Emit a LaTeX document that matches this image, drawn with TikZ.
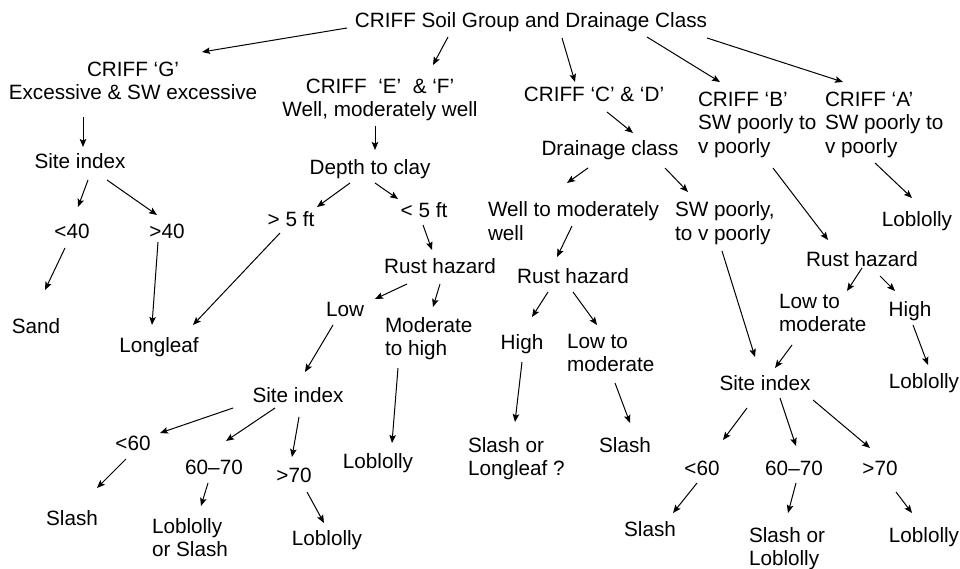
\documentclass[tikz,border=0pt]{standalone}
\usepackage{fontspec}
\setmainfont{Liberation Sans}
\usetikzlibrary{arrows.meta}
\tikzset{
  lab/.style={inner sep=0pt, outer sep=0pt, anchor=base, font=\fontsize{20.7}{23.5}\selectfont},
  mlc/.style={inner sep=0pt, outer sep=0pt, anchor=north, align=center, font=\fontsize{20.7}{23.5}\selectfont},
  mll/.style={inner sep=0pt, outer sep=0pt, anchor=north west, align=left, font=\fontsize{20.7}{23.5}\selectfont},
  arr/.style={line width=1pt, -{Stealth[length=8pt,width=6.5pt,inset=1.5pt]}}
}
\begin{document}
\begin{tikzpicture}[x=1pt,y=-1pt]
\useasboundingbox (0,0) rectangle (960,569);
% single-line nodes
\node[lab] (root) at (531,28) {CRIFF Soil Group and Drainage Class};
\node[lab] (siG) at (80,169) {Site index};
\node[lab] (dep) at (370,175) {Depth to clay};
\node[lab] (cd) at (594,102) {CRIFF ‘C’ \& ‘D’};
\node[lab] (dc) at (610,156) {Drainage class};
\node[lab] (lt40) at (72,238) {<40};
\node[lab] (gt40) at (167,238) {>40};
\node[lab] (gt5) at (291,227) {> 5 ft};
\node[lab] (lt5) at (424,218) {< 5 ft};
\node[lab] (sand) at (36,333) {Sand};
\node[lab] (long) at (159,352) {Longleaf};
\node[lab] (rhE) at (440,273) {Rust hazard};
\node[lab] (low) at (345,316) {Low};
\node[lab] (lobA) at (917,227) {Loblolly};
\node[lab] (rhB) at (862,266) {Rust hazard};
\node[lab] (rhC) at (573,283) {Rust hazard};
\node[lab] (highC) at (522,349) {High};
\node[lab] (highB) at (910,316) {High};
\node[lab] (siE) at (298,402) {Site index};
\node[lab] (lt60E) at (133,450) {<60};
\node[lab] (r6070E) at (214,474) {60–70};
\node[lab] (gt70E) at (294,482) {>70};
\node[lab] (lobM) at (378,468) {Loblolly};
\node[lab] (slashE) at (72,525) {Slash};
\node[lab] (lobE) at (327,545) {Loblolly};
\node[lab] (slashC) at (625,452) {Slash};
\node[lab] (siB) at (765,390) {Site index};
\node[lab] (lobBH) at (924,388) {Loblolly};
\node[lab] (lt60B) at (702,475) {<60};
\node[lab] (r6070B) at (794,475) {60–70};
\node[lab] (gt70B) at (880,475) {>70};
\node[lab] (slashB) at (650,536) {Slash};
\node[lab] (lobB) at (924,542) {Loblolly};
% multi-line nodes
\node[mlc] (G) at (133,62) {CRIFF ‘G’\\Excessive \& SW excessive};
\node[mlc] (EF) at (380,79) {CRIFF\ \ ‘E’\ \ \& ‘F’\\Well, moderately well};
\node[mll] (B) at (698,92) {CRIFF ‘B’\\SW poorly to\\v poorly};
\node[mll] (A) at (825,92) {CRIFF ‘A’\\SW poorly to\\v poorly};
\node[mll] (wtm) at (488,202) {Well to moderately\\well};
\node[mll] (swp) at (675,202) {SW poorly,\\to v poorly};
\node[mll] (mod) at (385,317) {Moderate\\to high};
\node[mll] (ltmC) at (567,334) {Low to\\moderate};
\node[mll] (ltmB) at (779,294) {Low to\\moderate};
\node[mll] (soL) at (468,437) {Slash or\\Longleaf ?};
\node[mll] (los) at (152,518) {Loblolly\\or Slash};
\node[mll] (sol) at (749,527) {Slash or\\Loblolly};
% connectors
\draw[arr] ([shift={(-184,0)}]root.base) -- ([shift={(69,-10)}]G.north);
\draw[arr] ([shift={(-83,9)}]root.base) -- ([shift={(53,-14)}]EF.north);
\draw[arr] ([shift={(31,10)}]root.base) -- ([shift={(-19,-20)}]cd.base);
\draw[arr] ([shift={(116,9)}]root.base) -- ([shift={(22,-10)}]B.north west);
\draw[arr] ([shift={(176,10)}]root.base) -- ([shift={(18,-10)}]A.north west);
\draw[arr] ([shift={(-50,55)}]G.north) -- ([shift={(3,-22)}]siG.base);
\draw[arr] ([shift={(8,11)}]siG.base) -- ([shift={(6,-31)}]lt40.base);
\draw[arr] ([shift={(27,11)}]siG.base) -- ([shift={(-10,-23)}]gt40.base);
\draw[arr] ([shift={(-5,47)}]EF.north) -- ([shift={(5,-25)}]dep.base);
\draw[arr] ([shift={(-20,8)}]dep.base) -- ([shift={(26,-20)}]gt5.base);
\draw[arr] ([shift={(5,8)}]dep.base) -- ([shift={(-26,-19)}]lt5.base);
\draw[arr] ([shift={(13,10)}]cd.base) -- ([shift={(23,-23)}]dc.base);
\draw[arr] ([shift={(-22,12)}]dc.base) -- ([shift={(79,-19)}]wtm.north west);
\draw[arr] ([shift={(55,12)}]dc.base) -- ([shift={(13,-10)}]swp.north west);
\draw[arr] ([shift={(75,76)}]B.north west) -- ([shift={(-34,-26)}]rhB.base);
\draw[arr] ([shift={(50,71)}]A.north west) -- ([shift={(-5,-29)}]lobA.base);
\draw[arr] ([shift={(-7,10)}]lt40.base) -- ([shift={(9,-43)}]sand.base);
\draw[arr] ([shift={(-9,4)}]gt40.base) -- ([shift={(-7,-27)}]long.base);
\draw[arr] ([shift={(-11,6)}]gt5.base) -- ([shift={(34,-27)}]long.base);
\draw[arr] ([shift={(-1,7)}]lt5.base) -- ([shift={(-8,-23)}]rhE.base);
\draw[arr] ([shift={(-33,11)}]rhE.base) -- ([shift={(30,-17)}]low.base);
\draw[arr] ([shift={(0,11)}]rhE.base) -- ([shift={(48,-10)}]mod.north west);
\draw[arr] ([shift={(-12,9)}]low.base) -- ([shift={(7,-30)}]siE.base);
\draw[arr] ([shift={(13,51)}]mod.north west) -- ([shift={(14,-25)}]lobM.base);
\draw[arr] ([shift={(84,24)}]wtm.north west) -- ([shift={(-16,-26)}]rhC.base);
\draw[arr] ([shift={(47,49)}]swp.north west) -- ([shift={(-10,-33)}]siB.base);
\draw[arr] ([shift={(-25,9)}]rhC.base) -- ([shift={(10,-32)}]highC.base);
\draw[arr] ([shift={(0,9)}]rhC.base) -- ([shift={(30,-9)}]ltmC.north west);
\draw[arr] ([shift={(0,2)}]rhB.base) -- ([shift={(68,-3)}]ltmB.north west);
\draw[arr] ([shift={(18,10)}]rhB.base) -- ([shift={(-15,-25)}]highB.base);
\draw[arr] ([shift={(13,51)}]ltmB.north west) -- ([shift={(10,-22)}]siB.base);
\draw[arr] ([shift={(3,9)}]highB.base) -- ([shift={(4,-23)}]lobBH.base);
\draw[arr] ([shift={(0,13)}]highC.base) -- ([shift={(47,-15)}]soL.north west);
\draw[arr] ([shift={(48,49)}]ltmC.north west) -- ([shift={(5,-29)}]slashC.base);
\draw[arr] ([shift={(-65,6)}]siE.base) -- ([shift={(27,-17)}]lt60E.base);
\draw[arr] ([shift={(-23,6)}]siE.base) -- ([shift={(12,-33)}]r6070E.base);
\draw[arr] ([shift={(1,15)}]siE.base) -- ([shift={(-2,-25)}]gt70E.base);
\draw[arr] ([shift={(-7,9)}]lt60E.base) -- ([shift={(25,-37)}]slashE.base);
\draw[arr] ([shift={(-6,9)}]r6070E.base) -- ([shift={(49,-12)}]los.north west);
\draw[arr] ([shift={(13,10)}]gt70E.base) -- ([shift={(-3,-22)}]lobE.base);
\draw[arr] ([shift={(-18,18)}]siB.base) -- ([shift={(21,-35)}]lt60B.base);
\draw[arr] ([shift={(15,8)}]siB.base) -- ([shift={(2,-29)}]r6070B.base);
\draw[arr] ([shift={(48,10)}]siB.base) -- ([shift={(-10,-27)}]gt70B.base);
\draw[arr] ([shift={(-5,8)}]lt60B.base) -- ([shift={(23,-23)}]slashB.base);
\draw[arr] ([shift={(2,8)}]r6070B.base) -- ([shift={(39,-14)}]sol.north west);
\draw[arr] ([shift={(16,17)}]gt70B.base) -- ([shift={(-12,-29)}]lobB.base);
\end{tikzpicture}
\end{document}
